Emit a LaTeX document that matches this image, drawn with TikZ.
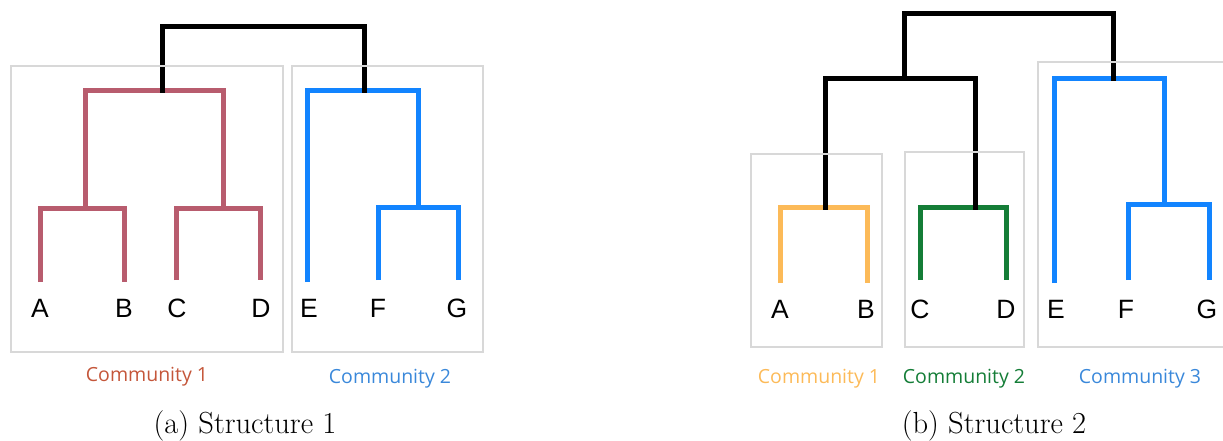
\documentclass[tikz,border=0pt]{standalone}
\usepackage{fontspec}
\newfontfamily\leaffont{Liberation Sans}
\newfontfamily\commfont{Open Sans}
\definecolor{cmauve}{RGB}{184,92,110}
\definecolor{cblue}{RGB}{18,132,255}
\definecolor{cyellow}{RGB}{252,186,88}
\definecolor{cgreen}{RGB}{20,125,55}
\definecolor{cboxgray}{RGB}{216,216,216}
\definecolor{ccommred}{RGB}{196,86,58}
\definecolor{ccommblue}{RGB}{58,136,218}
\tikzset{
  branch/.style={line width=5pt, line cap=butt, line join=miter},
  commbox/.style={draw=cboxgray, line width=2.2pt},
  leaf/.style={inner sep=0pt, anchor=base, font=\leaffont\fontsize{26.5}{31}\selectfont},
  commlabel/.style={inner sep=0pt, anchor=base, font=\commfont\fontsize{19.5}{23}\selectfont},
  caption/.style={inner sep=0pt, anchor=base, font=\fontsize{30.5}{36}\selectfont},
}
\begin{document}
\begin{tikzpicture}[x=1pt,y=-1pt]
\useasboundingbox (0,0) rectangle (1223,440);
% ---------------- Structure 1 ----------------
\coordinate (a1A) at (40,282);
\coordinate (a1B) at (124,282);
\coordinate (a1C) at (176,280);
\coordinate (a1D) at (260,280);
\coordinate (a1E) at (307,282);
\coordinate (a1F) at (378,280);
\coordinate (a1G) at (458,280);
\coordinate (a1AB) at (85,208);
\coordinate (a1CD) at (223,208);
\coordinate (a1FG) at (418,207);
\coordinate (a1ABCD) at (162,90);
\coordinate (a1EFG) at (364,90);
\coordinate (a1top) at (0,26);
% red
\draw[branch, cmauve] (a1A) |- (a1AB) -| (a1B);
\draw[branch, cmauve] (a1C) |- (a1CD) -| (a1D);
\draw[branch, cmauve] (a1AB) |- (a1ABCD) -| (a1CD);
% blue
\draw[branch, cblue] (a1F) |- (a1FG) -| (a1G);
\draw[branch, cblue] (a1E) |- (a1EFG) -| (a1FG);
% black
\draw[branch, black] ([yshift=-2.5pt]a1ABCD) |- (a1ABCD |- a1top) -| ([yshift=-2.5pt]a1EFG);
% boxes
\node[commbox, minimum width=272pt, minimum height=286pt, inner sep=0pt] (box1a) at (147,209) {};
\node[commbox, minimum width=191pt, minimum height=286pt, inner sep=0pt] (box2a) at (387.5,209) {};
% labels
\node[leaf] (lA1) at (40,317) {A};
\node[leaf] (lB1) at (124,317) {B};
\node[leaf] (lC1) at (177,317) {C};
\node[leaf] (lD1) at (261,317) {D};
\node[leaf] (lE1) at (309,317) {E};
\node[leaf] (lF1) at (378,317) {F};
\node[leaf] (lG1) at (457,317) {G};
\node[commlabel, text=ccommred] (c1a) at (147,381) {Community 1};
\node[commlabel, text=ccommblue] (c2a) at (390,383) {Community 2};
\node[caption] (capa) at (245,433) {(a) Structure 1};
% ---------------- Structure 2 ----------------
\coordinate (b2A) at (780,283);
\coordinate (b2B) at (867,283);
\coordinate (b2C) at (920,280);
\coordinate (b2D) at (1006,280);
\coordinate (b2E) at (1054,283);
\coordinate (b2F) at (1128,280);
\coordinate (b2G) at (1209,280);
\coordinate (b2AB) at (825,207);
\coordinate (b2CD) at (975,207);
\coordinate (b2FG) at (1164,204);
\coordinate (b2ABCD) at (904,78);
\coordinate (b2EFG) at (1113,78);
\coordinate (b2top) at (0,13);
\draw[branch, cyellow] (b2A) |- (b2AB) -| (b2B);
\draw[branch, cgreen] (b2C) |- (b2CD) -| (b2D);
\draw[branch, cblue] (b2F) |- (b2FG) -| (b2G);
\draw[branch, cblue] (b2E) |- (b2EFG) -| (b2FG);
\draw[branch, black] ([yshift=-2.5pt]b2AB) |- (b2ABCD) -| ([yshift=-2.5pt]b2CD);
\draw[branch, black] (b2ABCD) |- (b2ABCD |- b2top) -| ([yshift=-2.5pt]b2EFG);
% boxes
\node[commbox, minimum width=131pt, minimum height=193pt, inner sep=0pt] (box1b) at (816.5,250.5) {};
\node[commbox, minimum width=119pt, minimum height=195pt, inner sep=0pt] (box2b) at (964.5,249.5) {};
\coordinate (box3tl) at (1038,62);
\coordinate (box3bl) at (1038,347);
\draw[commbox] (1232,62) -- (box3tl) -- (box3bl) -- (1232,347);
% labels
\node[leaf] (lA2) at (780,318) {A};
\node[leaf] (lB2) at (866,318) {B};
\node[leaf] (lC2) at (920,318) {C};
\node[leaf] (lD2) at (1006,318) {D};
\node[leaf] (lE2) at (1056,318) {E};
\node[leaf] (lF2) at (1126,318) {F};
\node[leaf] (lG2) at (1207,318) {G};
\node[commlabel, text=cyellow] (c1b) at (819,383) {Community 1};
\node[commlabel, text=cgreen] (c2b) at (964,383) {Community 2};
\node[commlabel, text=ccommblue] (c3b) at (1140,383) {Community 3};
\node[caption] (capb) at (994,433) {(b) Structure 2};
\end{tikzpicture}
\end{document}
